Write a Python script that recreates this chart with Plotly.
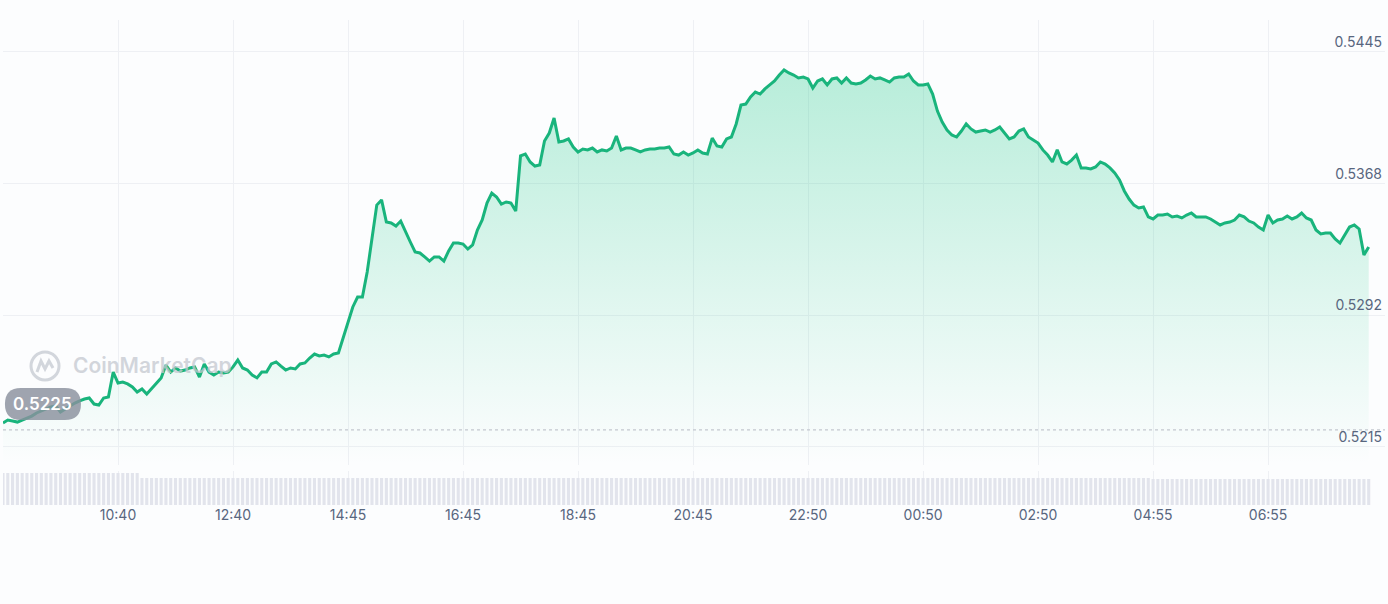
import plotly.graph_objects as go

# ---------------- data ----------------
price = [
    0.52290, 0.52307, 0.52301, 0.52295, 0.52307, 0.52319, 0.52330, 0.52348, 0.52359, 0.52371,
    0.52383, 0.52389, 0.52354, 0.52371, 0.52389, 0.52406, 0.52418, 0.52429, 0.52435, 0.52400,
    0.52394, 0.52435, 0.52441, 0.52586, 0.52522, 0.52528, 0.52517, 0.52499, 0.52470, 0.52488,
    0.52458, 0.52488, 0.52522, 0.52552, 0.52627, 0.52586, 0.52610, 0.52592, 0.52598, 0.52610,
    0.52616, 0.52557, 0.52633, 0.52586, 0.52569, 0.52586, 0.52581, 0.52586, 0.52616, 0.52656,
    0.52610, 0.52598, 0.52569, 0.52552, 0.52586, 0.52586, 0.52633, 0.52645, 0.52621, 0.52598,
    0.52610, 0.52604, 0.52633, 0.52639, 0.52668, 0.52691, 0.52680, 0.52685, 0.52674, 0.52691,
    0.52697, 0.52784, 0.52872, 0.52965, 0.53023, 0.53023, 0.53168, 0.53378, 0.53558, 0.53588,
    0.53459, 0.53454, 0.53436, 0.53465, 0.53401, 0.53343, 0.53285, 0.53279, 0.53256, 0.53232,
    0.53256, 0.53256, 0.53232, 0.53291, 0.53337, 0.53337, 0.53331, 0.53302, 0.53326, 0.53413,
    0.53471, 0.53570, 0.53628, 0.53605, 0.53564, 0.53576, 0.53570, 0.53523, 0.53844, 0.53855,
    0.53809, 0.53785, 0.53791, 0.53931, 0.53977, 0.54065, 0.53925, 0.53931, 0.53943, 0.53896,
    0.53867, 0.53884, 0.53879, 0.53890, 0.53867, 0.53879, 0.53873, 0.53890, 0.53960, 0.53879,
    0.53890, 0.53890, 0.53879, 0.53867, 0.53879, 0.53884, 0.53884, 0.53890, 0.53890, 0.53896,
    0.53855, 0.53849, 0.53867, 0.53849, 0.53861, 0.53879, 0.53861, 0.53855, 0.53948, 0.53902,
    0.53896, 0.53943, 0.53954, 0.54030, 0.54140, 0.54146, 0.54187, 0.54216, 0.54204, 0.54234,
    0.54257, 0.54280, 0.54315, 0.54344, 0.54327, 0.54315, 0.54298, 0.54303, 0.54292, 0.54239,
    0.54280, 0.54292, 0.54257, 0.54292, 0.54298, 0.54268, 0.54298, 0.54268, 0.54263, 0.54268,
    0.54286, 0.54309, 0.54292, 0.54298, 0.54286, 0.54274, 0.54298, 0.54303, 0.54303, 0.54321,
    0.54280, 0.54257, 0.54257, 0.54263, 0.54204, 0.54105, 0.54041, 0.53995, 0.53966, 0.53954,
    0.53989, 0.54030, 0.54001, 0.53983, 0.53989, 0.53995, 0.53983, 0.53995, 0.54012, 0.53977,
    0.53943, 0.53954, 0.53989, 0.54001, 0.53954, 0.53937, 0.53919, 0.53879, 0.53849, 0.53809,
    0.53879, 0.53809, 0.53797, 0.53820, 0.53849, 0.53774, 0.53774, 0.53768, 0.53780, 0.53809,
    0.53797, 0.53774, 0.53745, 0.53704, 0.53640, 0.53593, 0.53558, 0.53541, 0.53547, 0.53489,
    0.53477, 0.53500, 0.53500, 0.53506, 0.53489, 0.53494, 0.53483, 0.53500, 0.53512, 0.53489,
    0.53489, 0.53489, 0.53477, 0.53459, 0.53442, 0.53454, 0.53459, 0.53471, 0.53500, 0.53489,
    0.53465, 0.53454, 0.53430, 0.53413, 0.53500, 0.53454, 0.53471, 0.53477, 0.53494, 0.53477,
    0.53489, 0.53512, 0.53483, 0.53471, 0.53413, 0.53390, 0.53395, 0.53395, 0.53361, 0.53337,
    0.53384, 0.53430, 0.53442, 0.53419, 0.53267, 0.53314,
]

volume = [
    32, 32, 32, 32, 32, 32, 32, 32, 32, 32, 32, 32, 32, 32, 32, 32, 32, 32, 32, 32,
    32, 32, 32, 32, 32, 32, 32, 32, 32, 27, 27, 27, 27, 27, 27, 27, 27, 27, 27, 27,
    27, 27, 27, 27, 27, 27, 27, 27, 27, 27, 27, 27, 27, 27, 27, 27, 27, 27, 27, 27,
    27, 27, 27, 27, 27, 27, 27, 27, 27, 27, 27, 27, 27, 27, 27, 27, 27, 27, 27, 27,
    27, 27, 27, 27, 27, 27, 27, 27, 27, 27, 27, 27, 27, 27, 27, 27, 27, 27, 27, 27,
    27, 27, 27, 27, 27, 27, 27, 27, 27, 27, 27, 27, 27, 27, 27, 27, 27, 27, 27, 27,
    27, 27, 27, 27, 27, 27, 27, 27, 27, 27, 27, 27, 27, 27, 27, 27, 27, 27, 27, 27,
    27, 27, 27, 27, 27, 27, 27, 27, 27, 27, 27, 27, 27, 27, 27, 27, 27, 27, 27, 27,
    27, 27, 27, 27, 27, 27, 27, 27, 27, 27, 27, 27, 27, 27, 27, 27, 27, 27, 27, 27,
    27, 27, 27, 27, 27, 27, 27, 27, 27, 27, 27, 27, 27, 27, 27, 27, 27, 27, 27, 27,
    27, 27, 27, 27, 27, 27, 27, 27, 27, 27, 27, 27, 27, 27, 27, 27, 27, 27, 27, 27,
    27, 27, 27, 27, 27, 27, 27, 27, 27, 27, 27, 27, 27, 27, 27, 27, 27, 27, 27, 27,
    26, 26, 26, 26, 26, 26, 26, 26, 26, 26, 26, 26, 26, 26, 26, 26, 26, 26, 26, 26,
    26, 26, 26, 26, 26, 26, 26, 26, 26, 26, 26, 26, 26, 26, 26, 26, 26, 26, 26, 26,
    26, 26, 26, 26, 26, 26,
]

tick_index = [24, 48, 72, 96, 120, 144, 168, 192, 216, 240, 264]
tick_labels = ["10:40", "12:40", "14:45", "16:45", "18:45", "20:45",
               "22:50", "00:50", "02:50", "04:55", "06:55"]

y_tick_vals = [0.5215, 0.529167, 0.536833, 0.5445]
y_tick_labels = ["0.5215", "0.5292", "0.5368", "0.5445"]

open_price = 0.5225
open_label = "0.5225"

# ---------------- styling ----------------
BG = "#fcfdfe"
GREEN = "#19b47c"
GRID = "#eef0f4"
FONT_FAMILY = "Inter, Roboto, sans-serif"
TICK_FONT = dict(family=FONT_FAMILY, size=14, color="#58667e")

idx = list(range(len(price)))

fig = go.Figure()

fig.add_trace(go.Bar(
    x=idx, y=volume, yaxis="y2",
    marker=dict(color="#e2e4ec", line=dict(width=0)),
    hoverinfo="skip",
))

fig.add_trace(go.Scatter(
    x=idx, y=price, mode="lines",
    line=dict(color=GREEN, width=3),
    fill="tozeroy",
    fillgradient=dict(
        type="vertical", start=0.5205, stop=0.5445,
        colorscale=[[0, "rgba(22,199,132,0.0)"], [1, "rgba(22,199,132,0.31)"]],
    ),
))

fig.update_layout(
    width=1388, height=604,
    margin=dict(l=3, r=3, t=20, b=99),
    paper_bgcolor=BG, plot_bgcolor=BG,
    showlegend=False,
    bargap=0.35,
    xaxis=dict(
        range=[0, 288.4], anchor="y2",
        tickmode="array", tickvals=tick_index, ticktext=tick_labels,
        showgrid=True, gridcolor=GRID, gridwidth=1,
        zeroline=False, showline=False, ticks="",
        tickfont=TICK_FONT,
    ),
    yaxis=dict(
        domain=[0.0825, 1.0], range=[0.520452, 0.546351],
        side="right", tickmode="array", tickvals=y_tick_vals, ticktext=y_tick_labels,
        ticklabelposition="inside top",
        showgrid=True, gridcolor=GRID, gridwidth=1,
        zeroline=False, showline=False, ticks="",
        tickfont=TICK_FONT,
    ),
    yaxis2=dict(
        domain=[0.0, 0.0701], range=[0, 34],
        showgrid=False, showticklabels=False, zeroline=False, showline=False,
    ),
)

# open price dotted reference line
fig.add_shape(type="line", xref="paper", yref="y", x0=0, x1=1,
              y0=open_price, y1=open_price,
              line=dict(color="#c3c7d0", width=1.2, dash="dot"))

# watermark logo + text
WM = "rgba(196,200,208,0.75)"
fig.add_shape(type="circle", xref="paper", yref="y",
              xsizemode="pixel", ysizemode="pixel",
              xanchor=0.0304, yanchor=0.526214,
              x0=-14, x1=14, y0=-14, y1=14,
              line=dict(color=WM, width=3), layer="above")
fig.add_shape(type="path", xref="paper", yref="y",
              xsizemode="pixel", ysizemode="pixel",
              xanchor=0.0304, yanchor=0.526214,
              path="M -8,-6 L -4,5 L 0,-3 L 4,5 L 8,-2",
              line=dict(color=WM, width=3), layer="above")
fig.add_annotation(text="CoinMarketCap", xref="paper", yref="y",
                   x=0.0495, y=0.526214, xanchor="left", yanchor="middle",
                   showarrow=False,
                   font=dict(family=FONT_FAMILY, size=21, color=WM, weight=600))

# open price pill label
fig.add_shape(type="path", xref="paper", yref="y",
              xsizemode="pixel", ysizemode="pixel",
              xanchor=0.0289, yanchor=0.524002,
              path="M -22,16 L 22,16 Q 38,16 38,0 Q 38,-16 22,-16 L -22,-16 "
                   "Q -38,-16 -38,0 Q -38,16 -22,16 Z",
              fillcolor="rgba(138,144,158,0.82)", line=dict(width=0), layer="above")
fig.add_annotation(text=open_label, xref="paper", yref="y",
                   x=0.0289, y=0.524002, xanchor="center", yanchor="middle",
                   showarrow=False,
                   font=dict(family=FONT_FAMILY, size=17, color="white", weight=600))

fig.write_html("out.html",
               config={"displayModeBar": False},
               post_script="document.body.style.margin='0';document.body.style.background='#fcfdfe';")
